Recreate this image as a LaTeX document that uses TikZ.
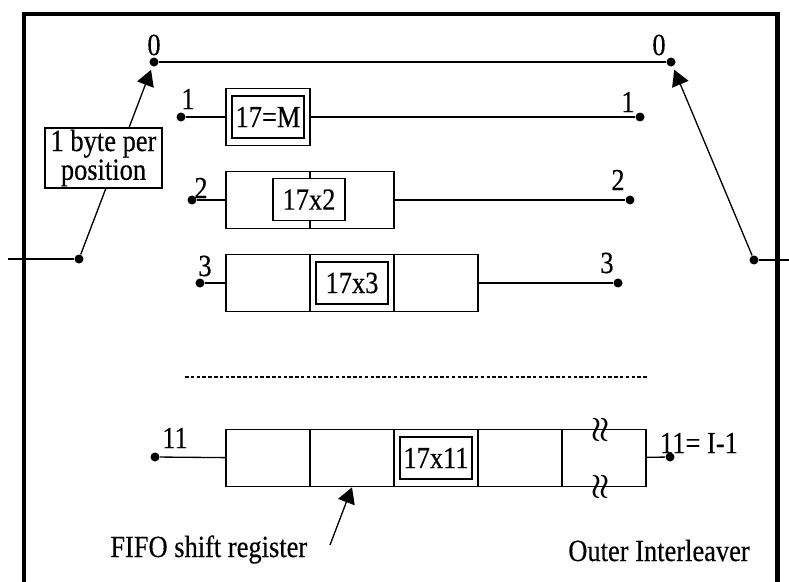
\documentclass[tikz,border=0pt]{standalone}
\usepackage{fontspec}
\setmainfont{Liberation Serif}[FakeStretch=0.86, FakeBold=0.4]
\usetikzlibrary{arrows.meta, backgrounds}
\newcommand{\labfont}{\fontsize{17.5}{14.7}\selectfont}
\tikzset{
    frame line/.style={line width=2.3pt},
    wire/.style={line width=0.75pt},
    sel arrow/.style={wire, -{Triangle[length=9pt, width=10pt]}, shorten >=2pt},
    cell/.style={draw, line width=0.9pt, minimum width=1.68cm,
        minimum height=1.14cm, inner sep=0pt},
    tapbox/.style={draw, fill=white, line width=0.9pt, minimum width=1.44cm,
        minimum height=0.84cm, inner sep=0pt, font=\labfont},
    tap/.style={circle, fill=black, inner sep=0pt, minimum size=0.18cm},
    tap label/.style={font=\labfont, inner sep=0pt},
    note/.style={draw, fill=white, line width=0.6pt, align=center,
        font=\labfont, minimum width=2.34cm, minimum height=1.20cm, inner sep=0pt},
    brk/.style={rotate=90, inner sep=0pt, font=\LARGE\boldmath},
}

\begin{document}
\begin{tikzpicture}

\useasboundingbox (0, 0) rectangle (15.78, 11.62);

% ===== FRAME =====
\draw[frame line] (0.48, -0.40) |- (15.55, 11.34) -- (15.55, -0.40);

% ===== SWITCH TAPS =====
\coordinate (in) at (0.16, 6.44);
\coordinate (out) at (15.80, 6.42);
\node[tap] (swin) at (1.58, 6.44) {};
\node[tap] (swout) at (15.08, 6.42) {};
\node[tap] (top0L) at (3.08, 10.38) {};
\node[tap] (top0R) at (13.42, 10.38) {};
\node[tap] (t1L) at (3.62, 9.28) {};
\node[tap] (t1R) at (12.80, 9.28) {};
\node[tap] (t2L) at (3.84, 7.62) {};
\node[tap] (t2R) at (12.60, 7.62) {};
\node[tap] (t3L) at (4.00, 5.96) {};
\node[tap] (t3R) at (12.36, 5.96) {};
\node[tap] (t11L) at (3.10, 2.48) {};
\node[tap] (t11R) at (13.40, 2.48) {};

% ===== TAP LABELS =====
\node[tap label] (lab0L) at (3.08, 10.72) {0};
\node[tap label] (lab0R) at (13.18, 10.72) {0};
\node[tap label] (lab1L) at (3.76, 9.64) {1};
\node[tap label] (lab1R) at (12.56, 9.58) {1};
\node[tap label] (lab2L) at (4.02, 7.86) {2};
\node[tap label] (lab2R) at (12.36, 8.02) {2};
\node[tap label] (lab3L) at (4.10, 6.30) {3};
\node[tap label] (lab3R) at (12.14, 6.36) {3};
\node[tap label] (lab11L) at (3.50, 2.86) {11};
\node[tap label] (lab11R) at (13.98, 2.76) {11= I-1};

% ===== SHIFT REGISTER CELLS =====
\node[cell] (r1a) at (5.36, 9.28) {};
\node[cell] (r2a) at (5.36, 7.62) {};
\node[cell] (r2b) at (7.04, 7.62) {};
\node[cell] (r3a) at (5.36, 5.96) {};
\node[cell] (r3b) at (7.04, 5.96) {};
\node[cell] (r3c) at (8.72, 5.96) {};
\node[cell] (r11a) at (5.36, 2.46) {};
\node[cell] (r11b) at (7.04, 2.46) {};
\node[cell] (r11c) at (8.72, 2.46) {};
\node[cell] (r11d) at (10.40, 2.46) {};
\node[cell] (r11e) at (12.08, 2.46) {};

\node[tapbox] (d1) at (5.36, 9.28) {17=M};
\node[tapbox] (d2) at (6.18, 7.63) {17x2};
\node[tapbox] (d3) at (7.04, 5.96) {17x3};
\node[tapbox] (d11) at (8.72, 2.46) {17x11};

\node[brk] (brkT) at (12.02, 3.02) {$\approx$};
\node[brk] (brkB) at (12.02, 1.89) {$\approx$};

% ===== NOTES =====
\node[note] (bytenote) at (2.07, 8.46) {1 byte per\\position};
\node[tap label, anchor=base west] (fifo) at (2.20, 0.48) {FIFO shift register};
\node[tap label, anchor=base west] (outer) at (11.36, 0.40) {Outer Interleaver};
\coordinate (fifotail) at (6.60, 0.72);
\coordinate (dashL) at (3.70, 4.08);
\coordinate (dashR) at (12.96, 4.08);

% ===== EDGES =====
\begin{scope}[on background layer]
\draw[wire] (in) -- (swin);
\draw[wire] (swout) -- (out);
\draw[sel arrow] (swin) -- (top0L);
\draw[sel arrow] (swout) -- (top0R);
\draw[wire] (top0L) -- (top0R);
\draw[wire] (t1L) -- (r1a);
\draw[wire] (r1a) -- (t1R);
\draw[wire] (t2L) -- (r2a);
\draw[wire] (r2b) -- (t2R);
\draw[wire] (t3L) -- (r3a);
\draw[wire] (r3c) -- (t3R);
\draw[wire] (t11L) -- (r11a);
\draw[wire] (r11e) -- (t11R);
\draw[wire, dash pattern=on 2pt off 1.3pt] (dashL) -- (dashR);
\draw[sel arrow, shorten >=0pt] (fifotail) -- (r11b.south);
\end{scope}

\end{tikzpicture}
\end{document}
